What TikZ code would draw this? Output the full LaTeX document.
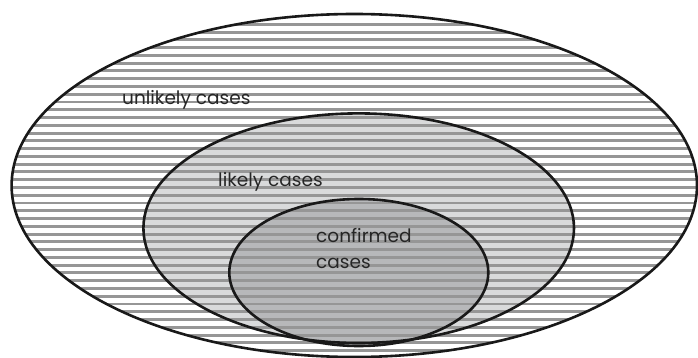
\documentclass[tikz,border=0pt]{standalone}
\usepackage{fontspec}
\setmainfont{Poppins}
\definecolor{stripegray}{HTML}{969696}
\definecolor{likelyfill}{HTML}{D9DADB}
\definecolor{confirmedfill}{HTML}{B7B8BA}
\begin{document}
\begin{tikzpicture}[x=1pt,y=-1pt,
  outline/.style={draw=black!90, line width=2.6pt},
  stripe/.style={draw=stripegray, line width=2.9pt},
  label/.style={inner sep=0pt, font=\fontsize{18.5}{26}\selectfont, text=black!85}]
  \useasboundingbox (0,0) rectangle (698,358);
  % centres of the three nested sets
  \coordinate (cu) at (354.3,185.5);
  \coordinate (cl) at (358.7,228.2);
  \coordinate (cc) at (358.8,272.5);
  % fills
  \fill[white] (cu) ellipse [x radius=342.7pt, y radius=171.5pt];
  \fill[likelyfill] (cl) ellipse [x radius=215.3pt, y radius=114.8pt];
  \fill[confirmedfill] (cc) ellipse [x radius=129.5pt, y radius=73.5pt];
  % horizontal hatching inside the outer set
  \begin{scope}
    \clip (cu) ellipse [x radius=342.7pt, y radius=171.5pt];
    \foreach \i in {0,...,44}
      \draw[stripe] (0,24.3+7.77*\i) -- (698,24.3+7.77*\i);
  \end{scope}
  % outlines
  \draw[outline] (cu) ellipse [x radius=342.7pt, y radius=171.5pt];
  \draw[outline] (cl) ellipse [x radius=215.3pt, y radius=114.8pt];
  \draw[outline] (cc) ellipse [x radius=129.5pt, y radius=73.5pt];
  % labels
  \node[label, anchor=base west] (unlikely) at (122,105) {unlikely cases};
  \node[label, anchor=base west] (likely) at (218,186.7) {likely cases};
  \node[label, anchor=base west, align=left] (confirmed) at (316,268) {confirmed\\cases};
\end{tikzpicture}
\end{document}
